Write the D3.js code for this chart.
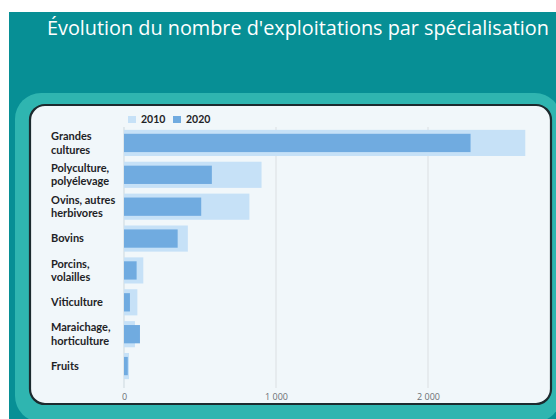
<!DOCTYPE html>
<html>
<head>
<meta charset="utf-8">
<script src="https://cdn.jsdelivr.net/npm/d3@7"></script>
<style>
  html, body { margin: 0; padding: 0; background: #ffffff; }
  svg { display: block; }
</style>
</head>
<body>
<svg id="chart" width="556" height="419"></svg>
<script>
// Farm counts by specialisation, 2010 vs 2020
const categories = [
  ["Grandes", "cultures"],
  ["Polyculture,", "polyélevage"],
  ["Ovins, autres", "herbivores"],
  ["Bovins"],
  ["Porcins,", "volailles"],
  ["Viticulture"],
  ["Maraichage,", "horticulture"],
  ["Fruits"]
];
const values2010 = [2640, 905, 825, 420, 127, 88, 72, 33];
const values2020 = [2280, 578, 508, 353, 83, 39, 105, 25];
const seriesNames = ["2010", "2020"];
const tickValues = [0, 1000, 2000];

const title = "Évolution du nombre d'exploitations par spécialisation";

const svg = d3.select("#chart");

// Dark teal header block
svg.append("rect")
  .attr("x", 9).attr("y", 12)
  .attr("width", 560).attr("height", 420)
  .attr("fill", "#078f95");

// Lighter teal frame
svg.append("rect")
  .attr("x", 15).attr("y", 93)
  .attr("width", 546).attr("height", 329)
  .attr("rx", 26).attr("ry", 26)
  .attr("fill", "#2fb5b0");

// Chart panel
svg.append("rect")
  .attr("x", 30).attr("y", 105)
  .attr("width", 521).attr("height", 299)
  .attr("rx", 15).attr("ry", 15)
  .attr("fill", "#f1f7fa")
  .attr("stroke", "#1c2a2e")
  .attr("stroke-width", 2.2);

// Title, fitted to its line
const titleText = svg.append("text")
  .attr("x", 47).attr("y", 35)
  .attr("fill", "#ffffff")
  .attr("font-family", "'Open Sans', sans-serif")
  .attr("font-size", 19)
  .text(title);
const tw = titleText.node().getComputedTextLength();
titleText.attr("font-size", 19 * 502 / tw);

const labels = categories.map(c => c.join(" "));

const x = d3.scaleLinear().domain([0, 1000]).range([124, 276]);
const y = d3.scaleBand()
  .domain(labels)
  .range([127, 382])
  .paddingInner(0.18)
  .paddingOuter(0.09);

const g = svg.append("g");

// Grid lines
g.selectAll("line.grid")
  .data(tickValues)
  .join("line")
  .attr("class", "grid")
  .attr("x1", d => x(d)).attr("x2", d => x(d))
  .attr("y1", 127).attr("y2", 388)
  .attr("stroke", d => d === 0 ? "#d3dde3" : "#dfe3e6")
  .attr("stroke-width", 1.2);

// 2010 wide bars
g.selectAll("rect.b2010")
  .data(values2010)
  .join("rect")
  .attr("class", "b2010")
  .attr("x", x(0))
  .attr("y", (d, i) => y(labels[i]))
  .attr("width", d => x(d) - x(0))
  .attr("height", y.bandwidth())
  .attr("fill", "#c6e1f7");

// 2020 narrow bars
const inset = y.bandwidth() * 0.15;
g.selectAll("rect.b2020")
  .data(values2020)
  .join("rect")
  .attr("class", "b2020")
  .attr("x", x(0))
  .attr("y", (d, i) => y(labels[i]) + inset)
  .attr("width", d => x(d) - x(0))
  .attr("height", y.bandwidth() - 2 * inset)
  .attr("fill", "#70abe0");

// Category labels
const catG = svg.append("g")
  .attr("font-family", "Lato, sans-serif")
  .attr("font-weight", "bold")
  .attr("font-size", 11)
  .attr("fill", "#1e2326");
categories.forEach((lines, i) => {
  const cy = y(labels[i]) + y.bandwidth() / 2;
  const t = catG.append("text").attr("x", 51);
  lines.forEach((ln, j) => {
    t.append("tspan")
      .attr("x", 51)
      .attr("y", cy + (j - (lines.length - 1) / 2) * 13.5)
      .attr("dy", "0.35em")
      .text(ln);
  });
});

// Axis tick labels (French thousands grouping)
const fmt = d => d3.format(",")(d).replace(/,/g, " ");
const axis = d3.axisBottom(x).tickValues(tickValues).tickSize(0).tickFormat(fmt);
const axG = svg.append("g")
  .attr("transform", "translate(0,391)")
  .call(axis);
axG.select(".domain").remove();
axG.selectAll("text")
  .attr("font-family", "'Open Sans', sans-serif")
  .attr("font-size", 9)
  .attr("fill", "#6a6f73")
  .style("white-space", "pre");

// Legend
const legend = svg.append("g")
  .attr("font-family", "Lato, sans-serif")
  .attr("font-weight", "bold")
  .attr("font-size", 10.5)
  .attr("fill", "#1e2326");
const legendX = [128, 173];
const legendColors = ["#c6e1f7", "#70abe0"];
seriesNames.forEach((name, i) => {
  legend.append("rect")
    .attr("x", legendX[i]).attr("y", 116)
    .attr("width", 8).attr("height", 7)
    .attr("fill", legendColors[i]);
  legend.append("text")
    .attr("x", legendX[i] + 13).attr("y", 119.5)
    .attr("dy", "0.35em")
    .text(name);
});
</script>
</body>
</html>
